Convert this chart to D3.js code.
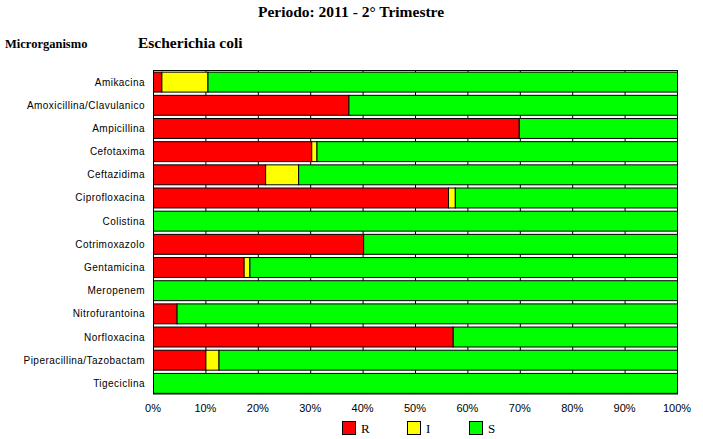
<!DOCTYPE html>
<html><head><meta charset="utf-8">
<script src="https://cdn.jsdelivr.net/npm/d3@7"></script>
<style>body{margin:0;background:#fff}</style>
</head><body>
<script>
const categories = ["Amikacina","Amoxicillina/Clavulanico","Ampicillina","Cefotaxima","Ceftazidima","Ciprofloxacina","Colistina","Cotrimoxazolo","Gentamicina","Meropenem","Nitrofurantoina","Norfloxacina","Piperacillina/Tazobactam","Tigeciclina"];
const R = [1.6, 37.3, 69.8, 30.2, 21.4, 56.3, 0, 40.1, 17.3, 0, 4.5, 57.2, 10.0, 0];
const I = [8.8, 0, 0, 1.0, 6.3, 1.3, 0, 0, 1.1, 0, 0, 0, 2.5, 0];
const S = R.map((r,i)=>100-r-I[i]);
const seriesNames = ["R","I","S"];
const seriesColors = ["#ff0000","#ffff00","#00ff00"];
const tickValues = [0,10,20,30,40,50,60,70,80,90,100];

const W=703,H=439;
const svg=d3.select("body").append("svg").attr("width",W).attr("height",H);
const x=d3.scaleLinear().domain([0,100]).range([153,677]);
const y=d3.scaleBand().domain(categories).range([70.5,394]).paddingInner(0.14).paddingOuter(0.05);

// title
svg.append("text").attr("x",351).attr("y",17).attr("text-anchor","middle")
  .attr("font-family","Liberation Serif, Times New Roman, serif").attr("font-weight","bold").attr("font-size",15.5)
  .text("Periodo: 2011 - 2° Trimestre");
svg.append("text").attr("x",5).attr("y",48)
  .attr("font-family","Liberation Serif, Times New Roman, serif").attr("font-weight","bold").attr("font-size",12.5)
  .text("Microrganismo");
svg.append("text").attr("x",138).attr("y",48)
  .attr("font-family","Liberation Serif, Times New Roman, serif").attr("font-weight","bold").attr("font-size",15.5)
  .text("Escherichia coli");

// gridlines
svg.append("g").selectAll("line").data(tickValues).join("line")
  .attr("x1",d=>x(d)+0.5).attr("x2",d=>x(d)+0.5).attr("y1",70.5).attr("y2",394)
  .attr("stroke","#000").attr("stroke-width",1);
svg.append("rect").attr("x",153.5).attr("y",70.5).attr("width",524).attr("height",323.5)
  .attr("fill","none").attr("stroke","#000");

const data = categories.map((c,i)=>({cat:c,R:R[i],I:I[i],S:S[i]}));
const stack=d3.stack().keys(seriesNames)(data);
svg.append("g").selectAll("g").data(stack).join("g")
  .attr("fill",(d,i)=>seriesColors[i])
  .selectAll("rect").data(d=>d.filter(v=>v[1]-v[0]>0.001)).join("rect")
  .attr("x",d=>x(d[0])+0.5).attr("y",d=>y(d.data.cat)+0.5)
  .attr("width",d=>x(d[1])-x(d[0])).attr("height",y.bandwidth())
  .attr("stroke","#000").attr("stroke-width",1);

// y labels
svg.append("g").selectAll("text").data(categories).join("text")
  .attr("x",145).attr("y",d=>y(d)+y.bandwidth()/2+4).attr("text-anchor","end")
  .attr("font-family","Liberation Sans, Arial, sans-serif").attr("font-size",10).attr("letter-spacing","0.45")
  .text(d=>d);

// x tick labels
svg.append("g").selectAll("text").data(tickValues).join("text")
  .attr("x",d=>x(d)).attr("y",412).attr("text-anchor","middle")
  .attr("font-family","Liberation Sans, Arial, sans-serif").attr("font-size",11)
  .text(d=>d+"%");

// legend
const lx=[342,407,469];
const lg=svg.append("g").selectAll("g").data(seriesNames).join("g")
  .attr("transform",(d,i)=>`translate(${lx[i]},421)`);
lg.append("rect").attr("x",0.5).attr("y",0.5).attr("width",13).attr("height",13)
  .attr("fill",(d,i)=>seriesColors[i]).attr("stroke","#000");
lg.append("text").attr("x",19).attr("y",12)
  .attr("font-family","Liberation Serif, Times New Roman, serif").attr("font-size",13).text(d=>d);
</script>
</body></html>
